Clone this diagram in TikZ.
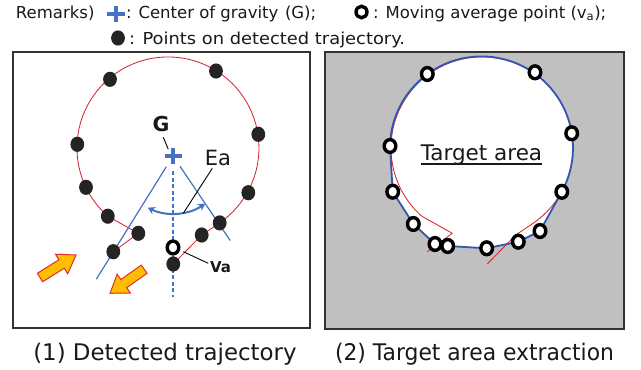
\documentclass[tikz,border=0pt]{standalone}
\usepackage{fontspec}
\setmainfont{DejaVu Sans}
\usepackage{graphicx}
\usetikzlibrary{shapes.geometric,arrows.meta,calc}
\definecolor{gblue}{RGB}{68,114,196}
\definecolor{oblue}{RGB}{52,86,178}
\definecolor{tred}{RGB}{210,30,40}
\definecolor{panelgray}{RGB}{192,192,192}
\definecolor{arrfill}{RGB}{255,190,0}
\definecolor{arredge}{RGB}{225,45,40}
\definecolor{txt}{RGB}{25,25,25}
\newcommand{\fitw}[2]{\resizebox{#1}{\height}{#2}}
\newcommand{\tgtpath}{(r4) arc[start angle=181.2, end angle=388.7, radius=91.5] -- (r6) -- (r8) -- (r12) -- (r11) -- (r10) -- (r9) -- (r7) -- (r5) -- cycle}
\begin{document}
\begin{tikzpicture}[x=1pt,y=-1pt,
  lbl/.style={inner sep=0pt, outer sep=0pt, text=txt},
  blackdot/.style={ellipse, fill=black!86, inner sep=0pt, minimum width=13.8pt, minimum height=15.2pt},
  opendot/.style={ellipse, draw=black, line width=3.4pt, fill=white, inner sep=0pt, minimum width=11.6pt, minimum height=12.8pt},
  traj/.style={draw=tred, line width=0.8pt},
  panel/.style={draw=black!80, line width=1.6pt},
  bline/.style={draw=gblue, line width=1.2pt},
  leader/.style={draw=black, line width=0.9pt},
  fatarrow/.style={fill=arrfill, draw=arredge, line width=1pt, line join=miter},
  hdr/.style={lbl, anchor=base west, font=\fontsize{16.5}{20}\selectfont},
]
\useasboundingbox (0,0) rectangle (641,370);
\fill[white] (0,0) rectangle (641,370);

% ---------- header ----------
\node[hdr] (rem) at (16,18.3) {Remarks)};
\draw[gblue, line width=4pt] (106.5,13.5) -- (124.5,13.5) (115.5,5.5) -- (115.5,21.5);
\node[hdr] (cg) at (126,18.3) {: Center of gravity};
\node[hdr] (cgG) at (285,18.3) {(G);};
\node[opendot, minimum width=11pt, minimum height=11.5pt] (hO) at (361.5,12) {};
\node[hdr] (mav) at (373,18.3) {: Moving average point (v\textsubscript{a});};
\node[blackdot] (hdot) at (118,38) {};
\node[hdr] (pts) at (129,44.5) {\fitw{276pt}{: Points on detected trajectory.}};

% ---------- panels ----------
\draw[panel] (13,52) rectangle (310,328);
\draw[panel, fill=panelgray] (325,52) rectangle (624,329);

% ---------- left panel ----------
\coordinate (d1) at (110,79.3);
\coordinate (d2) at (216,71);
\coordinate (d3) at (258.3,134.3);
\coordinate (d4) at (77.3,144.3);
\coordinate (d5) at (248.3,192.7);
\coordinate (d6) at (86,187.3);
\coordinate (d7) at (107.8,216.2);
\coordinate (d8) at (219.7,222.9);
\coordinate (d9) at (138.3,233.3);
\coordinate (d10) at (201.7,235);
\coordinate (d11) at (113.3,251.7);
\coordinate (d12) at (173.3,264);
\coordinate (G) at (173,156);

% trajectory
\draw[traj] (d7) arc[start angle=131.4, end angle=415.4, radius=91];
\draw[traj] (d8) -- (d10) -- (d12);
\draw[traj] (d7) -- (d9) -- (d11);

% blue lines from G
\coordinate (la) at ($(G)+(121.9:12.5)$);
\coordinate (lb) at ($(G)+(121.9:145)$);
\coordinate (ra) at ($(G)+(55.9:12.5)$);
\coordinate (rb) at ($(G)+(55.9:102)$);
\coordinate (va) at ($(G)+(90:15)$);
\coordinate (vb) at ($(G)+(90:141)$);
\draw[bline] (la) -- (lb);
\draw[bline] (ra) -- (rb);
\draw[bline, dash pattern=on 4pt off 2.5pt] (va) -- (vb);
\coordinate (ea1) at ($(G)+(116:57.5)$);
\draw[gblue, line width=2pt, {Stealth[length=7pt,width=8pt]}-{Stealth[length=7pt,width=8pt]}]
  (ea1) arc[start angle=116, end angle=56, radius=57.5];

% leaders
\coordinate (gl1) at (163.3,137.3);
\coordinate (gl2) at (168.3,149.3);
\coordinate (el1) at (212.3,168.3);
\coordinate (el2) at (183.3,213.3);
\coordinate (vl1) at (183.3,251.7);
\coordinate (vl2) at (208.3,263.3);
\draw[leader] (gl1) -- (gl2);
\draw[leader] (el1) -- (el2);
\draw[leader] (vl1) -- (vl2);

% dots
\foreach \i in {1,...,12} { \node[blackdot] (D\i) at (d\i) {}; }
\node[opendot] (Va) at (173,247.5) {};

% G cross
\draw[gblue, line width=4pt] (164.5,156) -- (181.5,156) (173,148.2) -- (173,163.8);

% labels
\node[lbl, anchor=base, font=\fontsize{20.5}{24}\selectfont\bfseries] (Glab) at (161,131.7) {G};
\node[lbl, anchor=base, font=\fontsize{21}{24}\selectfont] (Ealab) at (218,165) {Ea};
\node[lbl, anchor=base, font=\fontsize{15}{17}\selectfont\bfseries] (Valab) at (220.5,272.3) {Va};

% orange arrows
\draw[fatarrow, shift={(40,277.5)}, rotate=32]
  (0,-5) -- (25.5,-5) -- (25.5,-11.5) -- (42.5,0) -- (25.5,11.5) -- (25.5,5) -- (0,5) -- cycle;
\draw[fatarrow, shift={(144.2,269.2)}, rotate=215.2]
  (0,-5) -- (25,-5) -- (25,-11.5) -- (41.8,0) -- (25,11.5) -- (25,5) -- (0,5) -- cycle;

% ---------- right panel ----------
\coordinate (r1) at (427.3,74);
\coordinate (r2) at (535,72.3);
\coordinate (r3) at (571.7,133.3);
\coordinate (r4) at (390,146);
\coordinate (r5) at (392.7,191.7);
\coordinate (r6) at (561.8,191.8);
\coordinate (r7) at (413.3,224);
\coordinate (r8) at (540,231);
\coordinate (r9) at (435,244);
\coordinate (r10) at (447.7,246);
\coordinate (r11) at (486.7,248.3);
\coordinate (r12) at (518.3,241.7);

\path[fill=white] \tgtpath;
\begin{scope}[xshift=314pt]
  \draw[traj] (107.8,216.2) arc[start angle=131.4, end angle=415.4, radius=91];
  \draw[traj] (219.7,222.9) -- (201.7,235) -- (173.3,264);
  \draw[traj] (107.8,216.2) -- (138.3,233.3) -- (113.3,251.7);
\end{scope}
\draw[oblue, line width=1.8pt, line join=round] \tgtpath;
\foreach \i in {1,...,12} { \node[opendot] (R\i) at (r\i) {}; }

\node[lbl, anchor=base, font=\fontsize{21.5}{24}\selectfont] (ta) at (481.5,160) {Target area};
\draw[txt, line width=1.8pt] ([yshift=-3.6pt]ta.base west) -- ([yshift=-3.6pt]ta.base east);

% ---------- captions ----------
\node[lbl, anchor=base west, font=\fontsize{22.9}{26}\selectfont] (cap1) at (33.3,360) {(1) Detected trajectory};
\node[lbl, anchor=base west, font=\fontsize{22.9}{26}\selectfont] (cap2) at (335,360) {\fitw{279pt}{(2) Target area extraction}};
\end{tikzpicture}
\end{document}
